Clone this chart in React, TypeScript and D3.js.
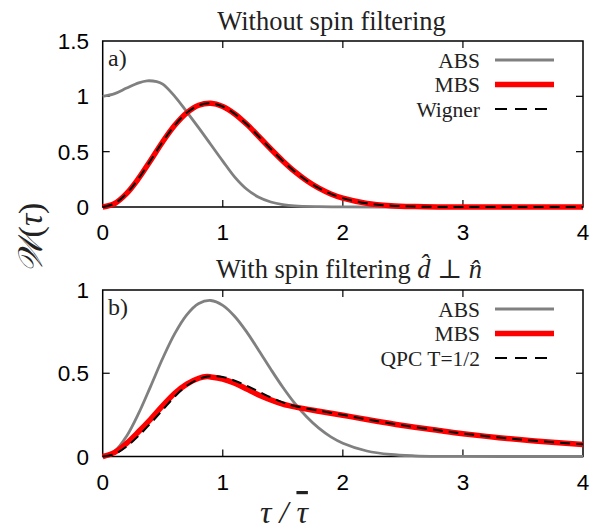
import { useMemo } from "react";
import * as d3 from "d3";

// ---- data ----
const tauW = [0, 0.1, 0.2, 0.3, 0.4, 0.5, 0.6, 0.7, 0.8, 0.9, 1.0, 1.1, 1.2, 1.3, 1.4, 1.5, 1.6, 1.7, 1.8, 1.9, 2.0, 2.2, 2.4, 2.6, 2.8, 3.0, 3.5, 4.0];
const mbsTop = [0, 0.032, 0.123, 0.26, 0.423, 0.59, 0.738, 0.851, 0.919, 0.937, 0.908, 0.841, 0.747, 0.637, 0.524, 0.416, 0.319, 0.237, 0.17, 0.118, 0.08, 0.033, 0.012, 0.004, 0.001, 0.0003, 0, 0];
const wignerTop = [0, 0.032, 0.123, 0.26, 0.423, 0.59, 0.738, 0.851, 0.919, 0.937, 0.908, 0.841, 0.747, 0.637, 0.524, 0.416, 0.319, 0.237, 0.17, 0.118, 0.08, 0.033, 0.012, 0.004, 0.001, 0.0003, 0, 0];
const absBot = [0, 0.032, 0.123, 0.26, 0.423, 0.59, 0.738, 0.851, 0.919, 0.937, 0.908, 0.841, 0.747, 0.637, 0.524, 0.416, 0.319, 0.237, 0.17, 0.118, 0.08, 0.033, 0.012, 0.004, 0.001, 0.0003, 0, 0];

const tauAbsTop = [0, 0.1, 0.2, 0.3, 0.37, 0.45, 0.5, 0.6, 0.7, 0.8, 0.9, 1.0, 1.1, 1.2, 1.3, 1.4, 1.5, 1.6, 1.8, 2.0, 2.5, 3.0, 4.0];
const absTop = [1.0, 1.025, 1.075, 1.122, 1.14, 1.132, 1.11, 1.0, 0.86, 0.715, 0.565, 0.415, 0.27, 0.16, 0.088, 0.045, 0.022, 0.01, 0.003, 0.001, 0, 0, 0];

const tauBot = [0, 0.1, 0.2, 0.3, 0.4, 0.5, 0.6, 0.7, 0.8, 0.87, 0.9, 1.0, 1.1, 1.2, 1.3, 1.4, 1.5, 1.6, 1.8, 2.0, 2.2, 2.5, 2.8, 3.0, 3.3, 3.6, 4.0];
const mbsBot = [0, 0.025, 0.08, 0.15, 0.225, 0.305, 0.38, 0.435, 0.47, 0.48, 0.478, 0.465, 0.44, 0.405, 0.37, 0.34, 0.315, 0.298, 0.272, 0.248, 0.222, 0.186, 0.156, 0.137, 0.113, 0.093, 0.072];
const qpcBot = [0, 0.015, 0.06, 0.125, 0.2, 0.28, 0.36, 0.425, 0.465, 0.48, 0.482, 0.478, 0.455, 0.425, 0.39, 0.355, 0.325, 0.303, 0.275, 0.25, 0.223, 0.187, 0.157, 0.138, 0.114, 0.094, 0.073];

const xTicks = [0, 1, 2, 3, 4];
const yTicksTop = [0, 0.5, 1, 1.5];
const yTicksBot = [0, 0.5, 1];

const W = 594, H = 529;
const SANS = "'Liberation Sans', Arial, sans-serif";
const SERIF = "'Liberation Serif', 'DejaVu Serif', serif";
const GRAY = "#808080";
const RED = "#ff0000";

type Series = { tau: number[]; val: number[]; kind: "abs" | "mbs" | "dash" };

function Panel({ top, bottom, ymax, yTicks, series, legend, tag }: {
  top: number; bottom: number; ymax: number; yTicks: number[];
  series: Series[]; legend: string[]; tag: string;
}) {
  const x = d3.scaleLinear().domain([0, 4]).range([102.7, 583]);
  const y = d3.scaleLinear().domain([0, ymax]).range([bottom, top]);
  const line = d3.line<[number, number]>()
    .x((d) => x(d[0]))
    .y((d) => Math.min(y(d[1]), bottom))
    .curve(d3.curveCatmullRom.alpha(0.5));

  const style = (k: Series["kind"]) =>
    k === "abs" ? { stroke: GRAY, strokeWidth: 2.8 }
      : k === "mbs" ? { stroke: RED, strokeWidth: 5.5 }
        : { stroke: "#000", strokeWidth: 2, strokeDasharray: "10,6" };

  const tick = 7;
  const legX = 480, legL0 = 495, legL1 = 554;
  const legY0 = top + 19;
  const legStep = 24.5;
  const kinds: Series["kind"][] = ["abs", "mbs", "dash"];

  return (
    <g>
      <rect x={x(0)} y={top} width={x(4) - x(0)} height={bottom - top} fill="none" stroke="#000" strokeWidth={1.5} />
      {xTicks.slice(1, -1).map((t) => (
        <g key={"xt" + t}>
          <line x1={x(t)} x2={x(t)} y1={bottom} y2={bottom - tick} stroke="#000" strokeWidth={1.2} />
          <line x1={x(t)} x2={x(t)} y1={top} y2={top + tick} stroke="#000" strokeWidth={1.2} />
        </g>
      ))}
      {yTicks.slice(1, -1).map((t) => (
        <g key={"yt" + t}>
          <line x1={x(0)} x2={x(0) + tick} y1={y(t)} y2={y(t)} stroke="#000" strokeWidth={1.2} />
          <line x1={x(4)} x2={x(4) - tick} y1={y(t)} y2={y(t)} stroke="#000" strokeWidth={1.2} />
        </g>
      ))}
      {xTicks.map((t) => (
        <text key={"xl" + t} x={x(t)} y={bottom + 33} textAnchor="middle" fontFamily={SANS} fontSize={22.5}>{t}</text>
      ))}
      {yTicks.map((t) => (
        <text key={"yl" + t} x={89} y={y(t) + 8} textAnchor="end" fontFamily={SANS} fontSize={22.5}>{t}</text>
      ))}
      {series.map((s, i) => (
        <path key={i} d={line(s.tau.map((t, j) => [t, s.val[j]] as [number, number])) ?? ""} fill="none" {...style(s.kind)} />
      ))}
      <text x={108} y={top + 25} fontFamily={SERIF} fontSize={24} fill="#222">{tag}</text>
      {legend.map((lab, i) => {
        const ly = legY0 + i * legStep;
        return (
          <g key={lab}>
            <text x={legX} y={ly + 7.5} textAnchor="end" fontFamily={SERIF} fontSize={21.5} fill="#222">{lab}</text>
            <line x1={legL0} x2={kinds[i] === "dash" ? legL1 - 2 : legL1} y1={ly} y2={ly} {...style(kinds[i])} strokeDasharray={kinds[i] === "dash" ? "12,8" : undefined} />
          </g>
        );
      })}
    </g>
  );
}

export default function App() {
  const topSeries = useMemo<Series[]>(() => [
    { tau: tauAbsTop, val: absTop, kind: "abs" },
    { tau: tauW, val: mbsTop, kind: "mbs" },
    { tau: tauW, val: wignerTop, kind: "dash" },
  ], []);
  const botSeries = useMemo<Series[]>(() => [
    { tau: tauW, val: absBot, kind: "abs" },
    { tau: tauBot, val: mbsBot, kind: "mbs" },
    { tau: tauBot, val: qpcBot, kind: "dash" },
  ], []);

  return (
    <div style={{ position: "absolute", left: 0, top: 0 }}>
      <svg width={W} height={H} viewBox={`0 0 ${W} ${H}`} style={{ display: "block", background: "#fff" }}>
        <text x={331.5} y={30} textAnchor="middle" fontFamily={SERIF} fontSize={26.5} fill="#222">Without spin filtering</text>
        <text x={349} y={278} textAnchor="middle" fontFamily={SERIF} fontSize={26.5} fill="#222">
          With spin filtering <tspan fontStyle="italic">d̂</tspan> ⊥ <tspan fontStyle="italic">n̂</tspan>
        </text>
        <Panel top={41} bottom={207} ymax={1.5} yTicks={yTicksTop} series={topSeries} legend={["ABS", "MBS", "Wigner"]} tag="a)" />
        <Panel top={290} bottom={456.5} ymax={1} yTicks={yTicksBot} series={botSeries} legend={["ABS", "MBS", "QPC T=1/2"]} tag="b)" />
        <text transform="translate(42,238) rotate(-90)" textAnchor="middle" fontFamily={SERIF} fontSize={34} fill="#222">
          <tspan fontStyle="italic">𝒲</tspan>(<tspan fontStyle="italic">τ</tspan>)
        </text>
        <text x={284} y={523} textAnchor="middle" fontFamily={SERIF} fontSize={32} fill="#222" fontStyle="italic">
          τ / <tspan textDecoration="overline">τ</tspan>
        </text>
      </svg>
    </div>
  );
}
